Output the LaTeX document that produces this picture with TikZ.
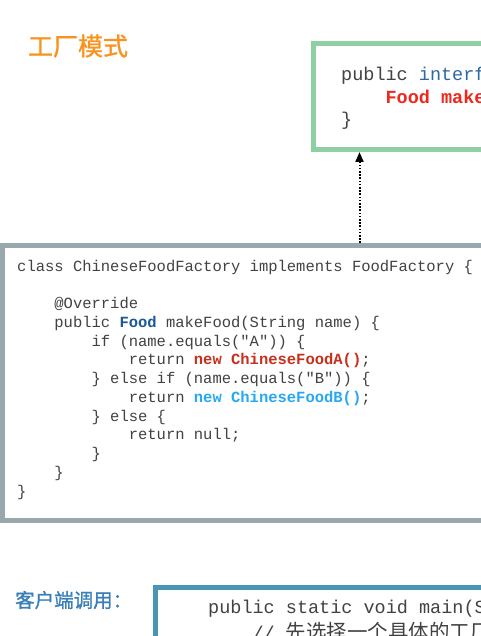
\documentclass[tikz,border=0pt]{standalone}
\usepackage{fontspec}
\newfontfamily\codefont{Liberation Mono}
\newfontfamily\cjk{Noto Sans CJK SC}
\newfontfamily\cjkhead[FakeBold=1.2]{Noto Sans CJK SC}
\usetikzlibrary{arrows.meta}

\definecolor{codegray}{RGB}{66,66,66}
\definecolor{ifaceblue}{RGB}{45,105,160}
\definecolor{makered}{RGB}{238,40,28}
\definecolor{foodblue}{RGB}{28,88,148}
\definecolor{newred}{RGB}{200,48,30}
\definecolor{newblue}{RGB}{40,168,240}
\definecolor{titleorange}{RGB}{247,147,30}
\definecolor{clientblue}{RGB}{58,127,184}
\definecolor{ifacegreen}{RGB}{143,208,163}
\definecolor{implgray}{RGB}{152,168,172}
\definecolor{clientframe}{RGB}{72,150,178}

\newcommand{\indentby}[1]{\hspace*{#1\fontcharwd\font`x}}

\tikzset{
  codebox/.style={draw=#1, line width=5pt, fill=white, anchor=north west, inner sep=0pt},
  codetext/.style={anchor=base west, align=left, inner sep=0pt, text=codegray},
  heading/.style={font=\cjkhead\fontsize{25}{30}\selectfont, inner sep=0pt},
  realizes/.style={line width=2pt, dash pattern=on 1.6pt off 1.6pt, -{Triangle[length=10pt,width=8pt]}}
}

\begin{document}
\begin{tikzpicture}[x=1pt, y=-1pt]
  \useasboundingbox (0,0) rectangle (481,636);
  \clip (0,0) rectangle (481,636);

  \node[heading, text=titleorange] (title) at (78,46) {工厂模式};

  \node[codebox=ifacegreen, minimum width=220pt, minimum height=106pt] (iface) at (310.5,41) {};
  \node[codetext, font=\codefont\fontsize{18.5}{22.5}\selectfont] (ifacecode) at (341,126)
    {public \textcolor{ifaceblue}{interf}\\
     \indentby{4}\textcolor{makered}{\bfseries Food make}\\
     \}};

  \node[codebox=implgray, minimum width=530pt, minimum height=275pt] (impl) at (0,243) {};
  \node[codetext, font=\codefont\fontsize{15.5}{18.75}\selectfont] (implcode) at (17,496)
    {class ChineseFoodFactory implements FoodFactory \{\\
     \mbox{}\\
     \indentby{4}@Override\\
     \indentby{4}public \textcolor{foodblue}{\bfseries Food} makeFood(String name) \{\\
     \indentby{8}if (name.equals("A")) \{\\
     \indentby{12}return \textcolor{newred}{\bfseries new ChineseFoodA()};\\
     \indentby{8}\} else if (name.equals("B")) \{\\
     \indentby{12}return \textcolor{newblue}{\bfseries new ChineseFoodB()};\\
     \indentby{8}\} else \{\\
     \indentby{12}return null;\\
     \indentby{8}\}\\
     \indentby{4}\}\\
     \}};

  \coordinate (tail) at (359.5,243);
  \draw[realizes] (tail) -- (tail |- iface.south);

  \node[heading, text=clientblue, font=\cjkhead\fontsize{19.5}{24}\selectfont, anchor=west] (client) at (15,600) {客户端调用：};

  \node[codebox=clientframe, minimum width=400pt, minimum height=100pt] (main) at (153,585) {};
  \node[codetext, font=\codefont\fontsize{18.5}{26.7}\selectfont] (maincode) at (208,639.7)
    {public static void main(S\\
     \indentby{4}// {\cjk\fontsize{20.5}{26.7}\selectfont 先选择一个具体的工厂}};
\end{tikzpicture}
\end{document}
